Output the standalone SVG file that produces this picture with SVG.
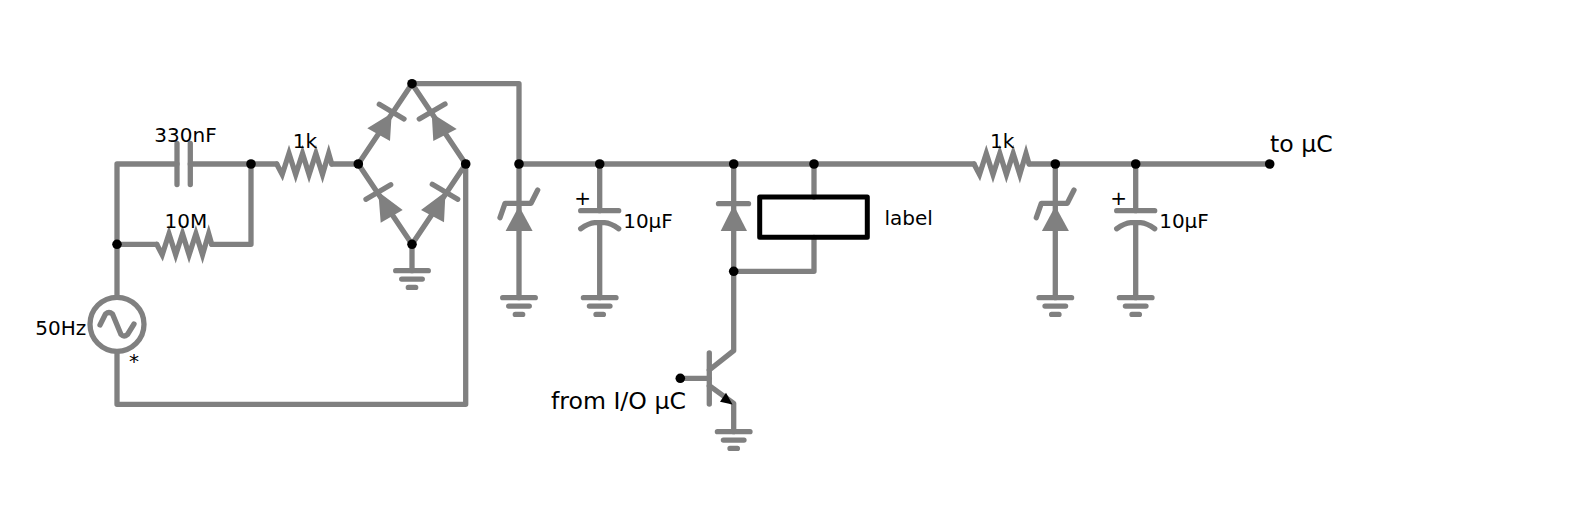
<svg xmlns="http://www.w3.org/2000/svg" xmlns:xlink="http://www.w3.org/1999/xlink" width="1590" height="516" viewBox="0 0 1590 516">
<style>
text{font-family:"DejaVu Sans",sans-serif;font-size:20px;fill:#000}
.big{font-size:23.6px}
.m{text-anchor:middle}
.w{fill:none;stroke:#808080;stroke-width:5.3;stroke-linecap:round;stroke-linejoin:round}
.r{fill:none;stroke:#808080;stroke-width:5.3;stroke-linecap:round;stroke-linejoin:miter;stroke-miterlimit:10}
.t{fill:#808080;stroke:none}
.d{fill:#000}
</style>
<defs>
<g id="gnd"><path class="w" d="M-16.3 0H16.3M-10.3 8.4H10.3M-3.7 16.7H3.7"/></g>
<g id="res"><path class="r" d="M0 0L5.5 10.5L12.3 -10.5L19 10.5L25.8 -10.5L32.4 10.5L39.2 -10.5L45.8 10.5L52 -10.5L55 0"/></g>
<g id="zen"><path class="w" d="M-19 53.7L-14 39.3H12L18.7 26"/><path class="t" d="M0 42L13.6 67H-13.4Z"/></g>
<g id="pcap"><path class="w" d="M-19 18Q-11 12.5 -5 12H5Q11 12.5 19 18M-19 0H19"/></g>
</defs>

<g id="connectors">
<path class="w" d="M117 296.8V164H177M190.3 164H276.7M332 164H358.3"/>
<path class="w" d="M117 244.3H156.7M211.7 244.3H251V164"/>
<path class="w" d="M117 352V404.3H465.7V164"/>
<path class="w" d="M358.3 164L412 83.7L465.7 164L412 244.3Z"/>
<path class="w" d="M412 244.3V270.7"/>
<path class="w" d="M412 83.7H519V297.7"/>
<path class="w" d="M519 164H974M1030 164H1269.7"/>
<path class="w" d="M599.7 164V210.7M599.7 222.7V297.7"/>
<path class="w" d="M733.7 164V350.7L709.3 370"/>
<path class="w" d="M814 164V197M814 237.3V271.3H733.7"/>
<path class="w" d="M680.3 378.3H709.3"/>
<path class="w" d="M709.3 385.7L733.7 403.3V431.7"/>
<path class="w" d="M1055.3 164V297.7"/>
<path class="w" d="M1135.7 164V210.7M1135.7 222.7V297.7"/>
</g>

<g id="source"><circle cx="117" cy="324.3" r="27" fill="#fff" stroke="#808080" stroke-width="5.3"/><path class="w" d="M100 325L105.5 314Q109 311 112.5 314L121 334.5Q124 337.5 127.5 334.5L134 324"/><text class="m" x="60.8" y="335">50Hz</text><text class="m" x="134" y="367.7">*</text></g>
<g id="c330"><path class="w" d="M177 143.5V184.5M190.3 143.5V184.5"/><text class="m" x="185.5" y="141.7">330nF</text></g>
<g id="r10M"><use xlink:href="#res" href="#res" x="156.7" y="244.3"/><text class="m" x="185.8" y="228.3">10M</text></g>
<g id="r1k"><use xlink:href="#res" href="#res" x="276.7" y="164"/><text class="m" x="305" y="147.7">1k</text></g>
<g id="bridge">
<path class="w" d="M366 199.3L390.7 184.7M379.3 104.3L404 119M419.3 119L445 104M432.3 184.3L457.7 199.3"/>
<path class="t" d="M378.3 191.7L402.7 210L380.7 222.7ZM391.7 113.3L367.3 128.3L390 141ZM431.7 113.3L433.3 141L456.7 129ZM445.5 191.7L421 210L444 222.3Z"/>
</g>
<g id="gnd1"><use xlink:href="#gnd" href="#gnd" x="412" y="270.7"/></g>
<g id="z1"><use xlink:href="#zen" href="#zen" x="519" y="164"/></g>
<g id="gnd2"><use xlink:href="#gnd" href="#gnd" x="519" y="297.7"/></g>
<g id="c1"><use xlink:href="#pcap" href="#pcap" x="599.7" y="210.7"/><text class="m" x="582.7" y="204.5">+</text><text class="m" x="648" y="228.3">10µF</text></g>
<g id="gnd3"><use xlink:href="#gnd" href="#gnd" x="599.7" y="297.7"/></g>
<g id="d5"><path class="w" d="M718.5 203.7H748.5"/><path class="t" d="M733.7 205L747 231H720.7Z"/></g>
<g id="relay"><rect x="759.7" y="197" width="107.6" height="40.3" fill="none" stroke="#000" stroke-width="5" stroke-linejoin="round"/><text x="884.5" y="224.5">label</text></g>
<g id="q1"><path class="w" d="M709.3 353V404"/><path class="d" d="M732.5 404.5L720 401.7L726 392.7Z"/><text class="big" x="551" y="409">from I/O µC</text></g>
<g id="gnd4"><use xlink:href="#gnd" href="#gnd" x="733.7" y="431.7"/></g>
<g id="r1k2"><use xlink:href="#res" href="#res" x="974" y="164"/><text class="m" x="1002.2" y="147.7">1k</text></g>
<g id="z2"><use xlink:href="#zen" href="#zen" x="1055.3" y="164"/></g>
<g id="gnd5"><use xlink:href="#gnd" href="#gnd" x="1055.3" y="297.7"/></g>
<g id="c2"><use xlink:href="#pcap" href="#pcap" x="1135.7" y="210.7"/><text class="m" x="1118.7" y="204.5">+</text><text class="m" x="1184" y="228.3">10µF</text></g>
<g id="gnd6"><use xlink:href="#gnd" href="#gnd" x="1135.7" y="297.7"/></g>
<g id="out"><text class="big" x="1270" y="151.7">to µC</text></g>
<g id="junctions">
<circle class="d" cx="117" cy="244.3" r="4.8"/><circle class="d" cx="251" cy="164" r="4.8"/><circle class="d" cx="358.3" cy="164" r="4.8"/><circle class="d" cx="412" cy="83.7" r="4.8"/><circle class="d" cx="465.7" cy="164" r="4.8"/><circle class="d" cx="412" cy="244.3" r="4.8"/><circle class="d" cx="519" cy="164" r="4.8"/><circle class="d" cx="599.7" cy="164" r="4.8"/><circle class="d" cx="733.7" cy="164" r="4.8"/><circle class="d" cx="814" cy="164" r="4.8"/><circle class="d" cx="733.7" cy="271.3" r="4.8"/><circle class="d" cx="680.3" cy="378.3" r="4.8"/><circle class="d" cx="1055.3" cy="164" r="4.8"/><circle class="d" cx="1135.7" cy="164" r="4.8"/><circle class="d" cx="1269.7" cy="164" r="4.8"/>
</g>
</svg>
